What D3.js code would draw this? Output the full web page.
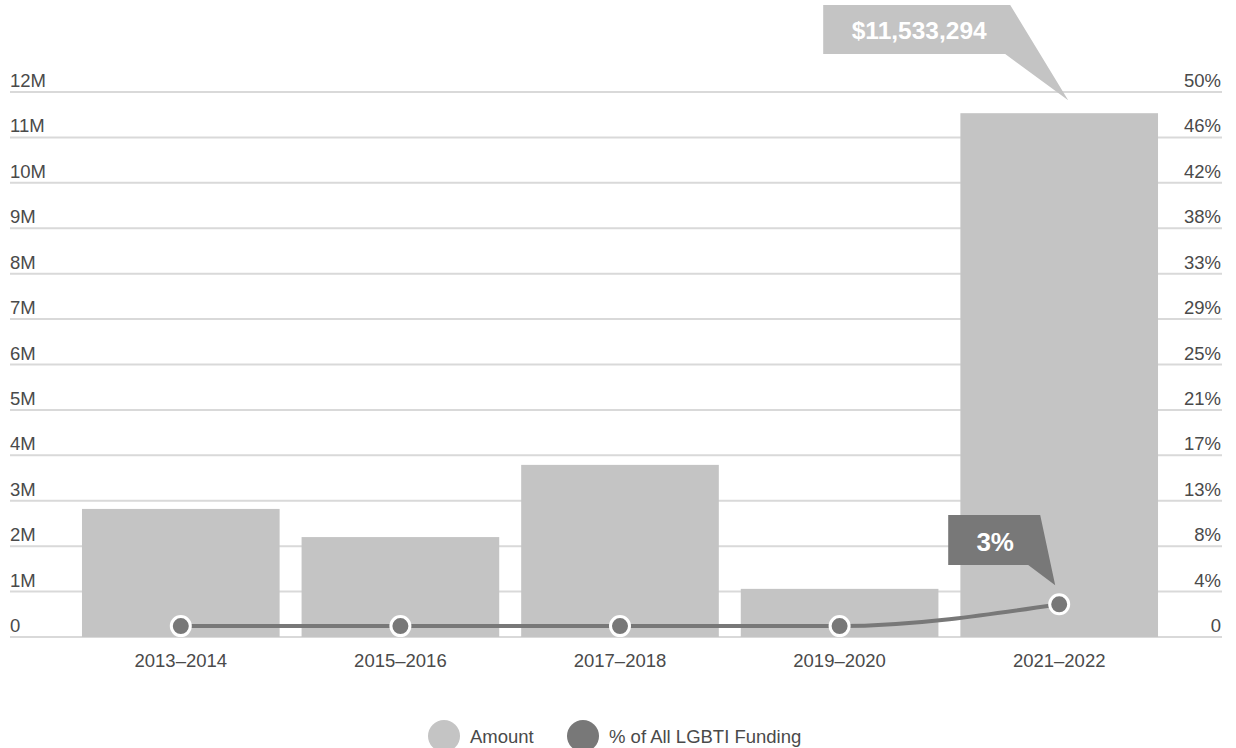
<!DOCTYPE html>
<html><head><meta charset="utf-8">
<script src="https://cdn.jsdelivr.net/npm/d3@7/dist/d3.min.js"></script>
<style>body{margin:0;background:#fff;}svg{display:block;font-family:"Liberation Sans",Arial,Helvetica,sans-serif;}</style>
</head><body>
<svg id="chart" width="1236" height="748"></svg>
<script>
const categories = ["2013–2014","2015–2016","2017–2018","2019–2020","2021–2022"];
const amounts = [2820000, 2200000, 3790000, 1060000, 11533294];
const percents = [1, 1, 1, 1, 3];
const leftTicks = [0,1e6,2e6,3e6,4e6,5e6,6e6,7e6,8e6,9e6,10e6,11e6,12e6];
const leftTickLabels = ["0","1M","2M","3M","4M","5M","6M","7M","8M","9M","10M","11M","12M"];
const rightTickLabels = ["0","4%","8%","13%","17%","21%","25%","29%","33%","38%","42%","46%","50%"];
const legendItems = ["Amount","% of All LGBTI Funding"];
const calloutAmount = "$11,533,294";
const calloutPct = "3%";

(function(){
const svg = d3.select("#chart");
const gridLeft = 10, gridRight = 1222, plotTop = 92, plotBottom = 637;
const barColor = "#c4c4c4", lineColor = "#787878", gridColor = "#d9d9d9", textColor = "#4a4a4a";
const fs = 18.5;

const x = d3.scaleBand().domain(categories).range([71, 1169]).paddingInner(0.1).paddingOuter(0.05);
const y = d3.scaleLinear().domain([0, 12e6]).range([plotBottom, plotTop]);
const y2 = d3.scaleLinear().domain([0, 50]).range([plotBottom, plotTop]);

// grid
svg.append("g").selectAll("line").data(leftTicks).join("line")
  .attr("x1", gridLeft).attr("x2", gridRight)
  .attr("y1", d => y(d)).attr("y2", d => y(d))
  .attr("stroke", gridColor).attr("stroke-width", 2);

// left labels
svg.append("g").selectAll("text").data(leftTicks).join("text")
  .attr("x", gridLeft).attr("y", d => y(d) - 5)
  .attr("font-size", fs).attr("fill", textColor)
  .text((d,i) => leftTickLabels[i]);

// right labels
svg.append("g").selectAll("text").data(leftTicks).join("text")
  .attr("x", gridRight - 1).attr("y", d => y(d) - 5)
  .attr("text-anchor", "end")
  .attr("font-size", fs).attr("fill", textColor)
  .text((d,i) => rightTickLabels[i]);

// bars
svg.append("g").selectAll("rect").data(amounts).join("rect")
  .attr("x", (d,i) => x(categories[i]))
  .attr("width", x.bandwidth())
  .attr("y", d => y(d))
  .attr("height", d => plotBottom - y(d))
  .attr("fill", barColor);

// x labels
svg.append("g").selectAll("text").data(categories).join("text")
  .attr("x", d => x(d) + x.bandwidth()/2).attr("y", 667)
  .attr("text-anchor", "middle").attr("font-size", fs).attr("fill", textColor)
  .text(d => d);

// line
const cx = i => x(categories[i]) + x.bandwidth()/2;
const line = d3.line().x((d,i) => cx(i)).y(d => y2(d)).curve(d3.curveMonotoneX);
svg.append("path").datum(percents).attr("d", line)
  .attr("fill", "none").attr("stroke", lineColor).attr("stroke-width", 4);

svg.append("g").selectAll("circle").data(percents).join("circle")
  .attr("cx", (d,i) => cx(i)).attr("cy", d => y2(d)).attr("r", 9.5)
  .attr("fill", lineColor).attr("stroke", "#fff").attr("stroke-width", 3);

// callout amount
const lastI = amounts.length - 1;
const bx = cx(lastI), by = y(amounts[lastI]);
const tip1 = [bx + 9, by - 13];
svg.append("path")
  .attr("d", `M${tip1[0]-245},5 L${tip1[0]-58},5 L${tip1[0]},${tip1[1]} L${tip1[0]-63},54 L${tip1[0]-245},54 Z`)
  .attr("fill", barColor);
svg.append("text").attr("x", tip1[0]-149).attr("y", 39).attr("text-anchor","middle")
  .attr("font-size", 24.5).attr("font-weight","bold").attr("fill","#fff").text(calloutAmount);

// callout pct
const py = y2(percents[lastI]);
const tip2 = [bx - 4, py - 19];
svg.append("path")
  .attr("d", `M${tip2[0]-107},515 L${tip2[0]-15},515 L${tip2[0]},${tip2[1]} L${tip2[0]-27},565 L${tip2[0]-107},565 Z`)
  .attr("fill", lineColor);
svg.append("text").attr("x", tip2[0]-60).attr("y", 551).attr("text-anchor","middle")
  .attr("font-size", 26).attr("font-weight","bold").attr("fill","#fff").text(calloutPct);

// legend
const lg = svg.append("g");
const legendX = [444, 583];
const legendColors = [barColor, lineColor];
legendItems.forEach((t,i) => {
  lg.append("circle").attr("cx", legendX[i]).attr("cy", 736).attr("r", 16).attr("fill", legendColors[i]);
  lg.append("text").attr("x", legendX[i] + 26).attr("y", 743).attr("font-size", fs).attr("fill", textColor).text(t);
});
})();
</script>
</body></html>
